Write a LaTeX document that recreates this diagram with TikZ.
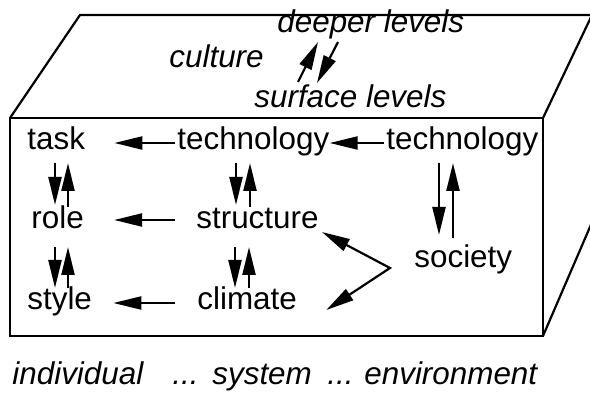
\documentclass[tikz,border=0pt]{standalone}
\usepackage{fontspec}
\setmainfont{Liberation Sans}
\usetikzlibrary{arrows.meta,calc}
\begin{document}
\begin{tikzpicture}[x=0.5pt,y=-0.5pt,
  lbl/.style={inner sep=0pt,anchor=base west,font=\fontsize{15.7}{19}\selectfont},
  ilbl/.style={lbl,font=\fontsize{15.7}{19}\selectfont\itshape},
  arr/.style={line width=1.1pt,-{Triangle[length=14pt,width=6.5pt]}},
  arrb/.style={line width=1.1pt,{Triangle[length=14pt,width=6.5pt]}-{Triangle[length=14pt,width=6.5pt]},line join=miter},
  boxline/.style={line width=1.1pt,line join=miter}]
\useasboundingbox (0,0) rectangle (590,401);
% box
\begin{scope}
\clip (0,0) rectangle (590,401);
\draw[boxline] (10,118) -- (80,15) -- (592,15) -- (543,118);
\draw[boxline] (543,336) -- (596,213);
\end{scope}
\draw[boxline] (10,118) rectangle (543,336);
% top face labels
\node[ilbl] (deeper) at (277,33) {deeper levels};
\node[ilbl] (culture) at (169,68) {culture};
\node[ilbl] (surface) at (254,108) {surface levels};
\draw[arr] ($(surface.base west)+(44,-26)$) -- ($(deeper.base west)+(41,9)$);
\draw[arr] ($(deeper.base west)+(61,9)$) -- ($(surface.base west)+(63,-25)$);
% front labels
\node[lbl] (ntask) at (27,150) {task};
\node[lbl] (nrole) at (31,228) {role};
\node[lbl] (nstyle) at (27,310) {style};
\node[lbl] (tech1) at (177,149.5) {technology};
\node[lbl] (struct) at (196,228) {structure};
\node[lbl] (clim) at (197,310) {climate};
\node[lbl] (tech2) at (386,149.5) {technology};
\node[lbl] (soc) at (414,268) {society};
% horizontal arrows
\draw[arr] ($(tech1.base west)+(-2,-6.5)$) -- ($(ntask.base east)+(29,-7)$);
\draw[arr] ($(tech2.base west)+(-2,-6.5)$) -- ($(tech1.base east)+(0,-6.5)$);
\draw[arr] ($(struct.base west)+(-21,-8)$) -- ($(nrole.base east)+(30,-8)$);
\draw[arr] ($(clim.base west)+(-22,-7)$) -- ($(nstyle.base east)+(21,-7)$);
% vertical arrows
\draw[arr] ($(ntask.base west)+(28,13)$) -- ($(nrole.base west)+(24,-23)$);
\draw[arr] ($(nrole.base west)+(37,-21)$) -- ($(ntask.base west)+(41,13)$);
\draw[arr] ($(nrole.base west)+(24,19)$) -- ($(nstyle.base west)+(28,-22)$);
\draw[arr] ($(nstyle.base west)+(41,-22)$) -- ($(nrole.base west)+(37,19)$);
\draw[arr] ($(tech1.base west)+(59,13.5)$) -- ($(struct.base west)+(40,-23)$);
\draw[arr] ($(struct.base west)+(54,-21)$) -- ($(tech1.base west)+(73,13.5)$);
\draw[arr] ($(struct.base west)+(39,19)$) -- ($(clim.base west)+(38,-22)$);
\draw[arr] ($(clim.base west)+(52,-22)$) -- ($(struct.base west)+(53,19)$);
\draw[arr] ($(tech2.base west)+(53,13.5)$) -- ($(soc.base west)+(25,-33)$);
\draw[arr] ($(soc.base west)+(39,-30)$) -- ($(tech2.base west)+(67,13.5)$);
% fork
\coordinate (fork) at ($(soc.base west)+(-24,0)$);
\draw[arrb] ($(struct.base east)+(3,4)$) -- (fork) -- ($(clim.base east)+(29,0)$);
% bottom labels
\node[ilbl] (indiv) at (12,385) {individual};
\node[ilbl] (dots1) at (172,385) {...};
\node[ilbl] (sys) at (212,385) {system};
\node[ilbl] (dots2) at (327,385) {...};
\node[ilbl] (env) at (364,385) {environment};
\end{tikzpicture}
\end{document}
